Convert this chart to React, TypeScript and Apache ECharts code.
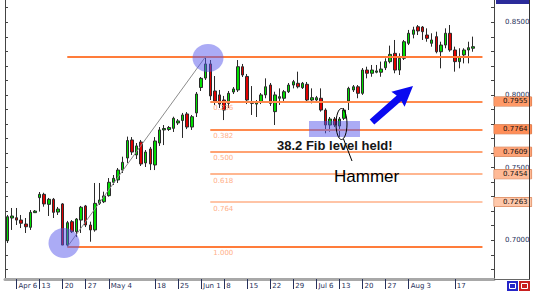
import React, { useEffect, useRef } from 'react';
import * as echarts from 'echarts';

// ---------- data ----------
const startDate = '2009-04-02';
const slotCount = 106; // trading days shown on the axis (incl. empty right margin)

// [open, close, low, high]
const ohlc: number[][] = [
  [0.6997, 0.7162, 0.6981, 0.7174],
  [0.7153, 0.7167, 0.7071, 0.7222],
  [0.7155, 0.7139, 0.7105, 0.7222],
  [0.7139, 0.7117, 0.7084, 0.7174],
  [0.7112, 0.7093, 0.7050, 0.7153],
  [0.7089, 0.7192, 0.7071, 0.7208],
  [0.7190, 0.7201, 0.7188, 0.7208],
  [0.7293, 0.7316, 0.7197, 0.7332],
  [0.7316, 0.7250, 0.7231, 0.7327],
  [0.7247, 0.7282, 0.7167, 0.7291],
  [0.7282, 0.7192, 0.7153, 0.7291],
  [0.7194, 0.7215, 0.7174, 0.7229],
  [0.7250, 0.6967, 0.6967, 0.7256],
  [0.6967, 0.7121, 0.6954, 0.7133],
  [0.7128, 0.7059, 0.7050, 0.7139],
  [0.7059, 0.7146, 0.7022, 0.7153],
  [0.7139, 0.7227, 0.7050, 0.7236],
  [0.7236, 0.7105, 0.7091, 0.7243],
  [0.7105, 0.7071, 0.6990, 0.7128],
  [0.7071, 0.7254, 0.7059, 0.7394],
  [0.7254, 0.7277, 0.7243, 0.7394],
  [0.7265, 0.7305, 0.7256, 0.7334],
  [0.7307, 0.7399, 0.7300, 0.7428],
  [0.7399, 0.7426, 0.7380, 0.7449],
  [0.7415, 0.7483, 0.7394, 0.7497],
  [0.7483, 0.7536, 0.7463, 0.7575],
  [0.7566, 0.7686, 0.7532, 0.7713],
  [0.7690, 0.7607, 0.7587, 0.7710],
  [0.7587, 0.7649, 0.7559, 0.7669],
  [0.7676, 0.7525, 0.7511, 0.7690],
  [0.7532, 0.7607, 0.7504, 0.7621],
  [0.7628, 0.7525, 0.7483, 0.7642],
  [0.7518, 0.7683, 0.7483, 0.7710],
  [0.7669, 0.7759, 0.7649, 0.7779],
  [0.7759, 0.7769, 0.7655, 0.7793],
  [0.7762, 0.7776, 0.7752, 0.7786],
  [0.7770, 0.7839, 0.7745, 0.7850],
  [0.7807, 0.7821, 0.7793, 0.7834],
  [0.7824, 0.7862, 0.7704, 0.7876],
  [0.7869, 0.7779, 0.7765, 0.7882],
  [0.7779, 0.7850, 0.7759, 0.7862],
  [0.7876, 0.8006, 0.7848, 0.8020],
  [0.8051, 0.8114, 0.8027, 0.8123],
  [0.8116, 0.8213, 0.8103, 0.8264],
  [0.8213, 0.7993, 0.7965, 0.8240],
  [0.8027, 0.7958, 0.7931, 0.8130],
  [0.8000, 0.7937, 0.7910, 0.8034],
  [0.7965, 0.7896, 0.7827, 0.7993],
  [0.7942, 0.8011, 0.7910, 0.8027],
  [0.8020, 0.8041, 0.8006, 0.8054],
  [0.8034, 0.8194, 0.8020, 0.8240],
  [0.8194, 0.8137, 0.8123, 0.8213],
  [0.8127, 0.7965, 0.7937, 0.8144],
  [0.7955, 0.7942, 0.7862, 0.8061],
  [0.7937, 0.7951, 0.7848, 0.7965],
  [0.7953, 0.8000, 0.7937, 0.8013],
  [0.8000, 0.8056, 0.7977, 0.8114],
  [0.8068, 0.7942, 0.7924, 0.8082],
  [0.7885, 0.8000, 0.7793, 0.8022],
  [0.7977, 0.7988, 0.7931, 0.8045],
  [0.7977, 0.8022, 0.7958, 0.8034],
  [0.8022, 0.8068, 0.8013, 0.8082],
  [0.8068, 0.8091, 0.8045, 0.8103],
  [0.8080, 0.8056, 0.8045, 0.8160],
  [0.8050, 0.8080, 0.8041, 0.8089],
  [0.8073, 0.7965, 0.7951, 0.8089],
  [0.7965, 0.7981, 0.7942, 0.8045],
  [0.7965, 0.7981, 0.7958, 0.7993],
  [0.7977, 0.7896, 0.7885, 0.8045],
  [0.7896, 0.7793, 0.7736, 0.7908],
  [0.7793, 0.7834, 0.7747, 0.7848],
  [0.7834, 0.7793, 0.7779, 0.7848],
  [0.7786, 0.7834, 0.7710, 0.7848],
  [0.7839, 0.7896, 0.7827, 0.7910],
  [0.7958, 0.8045, 0.7896, 0.8056],
  [0.8034, 0.8056, 0.8020, 0.8068],
  [0.8056, 0.8011, 0.7977, 0.8068],
  [0.8011, 0.8171, 0.8000, 0.8185],
  [0.8171, 0.8149, 0.8114, 0.8194],
  [0.8149, 0.8171, 0.8125, 0.8206],
  [0.8156, 0.8165, 0.8149, 0.8206],
  [0.8156, 0.8178, 0.8125, 0.8229],
  [0.8187, 0.8229, 0.8171, 0.8252],
  [0.8229, 0.8279, 0.8217, 0.8339],
  [0.8286, 0.8171, 0.8149, 0.8378],
  [0.8171, 0.8252, 0.8137, 0.8286],
  [0.8252, 0.8366, 0.8240, 0.8378],
  [0.8355, 0.8424, 0.8343, 0.8447],
  [0.8417, 0.8447, 0.8389, 0.8469],
  [0.8469, 0.8440, 0.8412, 0.8481],
  [0.8467, 0.8435, 0.8378, 0.8474],
  [0.8412, 0.8389, 0.8366, 0.8458],
  [0.8355, 0.8378, 0.8332, 0.8424],
  [0.8401, 0.8297, 0.8286, 0.8435],
  [0.8297, 0.8343, 0.8183, 0.8366],
  [0.8343, 0.8424, 0.8321, 0.8458],
  [0.8424, 0.8309, 0.8297, 0.8481],
  [0.8309, 0.8229, 0.8160, 0.8332],
  [0.8229, 0.8263, 0.8183, 0.8321],
  [0.8275, 0.8309, 0.8217, 0.8321],
  [0.8309, 0.8325, 0.8217, 0.8366],
  [0.8321, 0.8332, 0.8297, 0.8401],
];

const tickDates = [
  '2009-04-06', '2009-04-13', '2009-04-20', '2009-04-27', '2009-05-04',
  '2009-05-18', '2009-05-25', '2009-06-01', '2009-06-08', '2009-06-15',
  '2009-06-22', '2009-06-29', '2009-07-06', '2009-07-13', '2009-07-20',
  '2009-07-27', '2009-08-03', '2009-08-17',
];
const tickLabels = [
  'Apr 6', '13', '20', '27', 'May 4', '18', '25', 'Jun 1', '8', '15',
  '22', '29', 'Jul 6', '13', '20', '27', 'Aug 3', '17',
];

const fibHigh = 0.8264;
const fibLow = 0.6954;
const fibLowIndex = 13;
const fibHighIndex = 43;
const fibMidStartIndex = 44;
const fibEndIndex = 103;
const fibRatios = [0, 0.236, 0.382, 0.5, 0.618, 0.764, 1];
const fibLineColors = ['#FF7C3A', '#FF8A4E', '#FF8A4E', '#FFA272', '#FFB690', '#FFC4A6', '#FF7C3A'];
const fibTagColors = ['', '#FF9A68', '#FF8E58', '#FFA478', '#FFBA96', '#FFC8AA', ''];

const yLabelValues = [0.7, 0.75, 0.8, 0.85];
const yTickValues = [0.68, 0.69, 0.7, 0.71, 0.72, 0.73, 0.74, 0.75, 0.76, 0.77, 0.78, 0.79, 0.8, 0.81, 0.82, 0.83, 0.84, 0.85, 0.86];
const yMin = 0.67335;
const yMax = 0.8653;

// ---------- helpers ----------
function buildDates(start: string, n: number): string[] {
  const out: string[] = [];
  const d = new Date(start + 'T00:00:00Z');
  while (out.length < n) {
    const wd = d.getUTCDay();
    if (wd !== 0 && wd !== 6) out.push(d.toISOString().slice(0, 10));
    d.setUTCDate(d.getUTCDate() + 1);
  }
  return out;
}

const FONT = '"DejaVu Sans", sans-serif';
const HIDDEN = { color: 'rgba(0,0,0,0)', width: 0 };

export default function App() {
  const ref = useRef<HTMLDivElement>(null);

  useEffect(() => {
    if (!ref.current) return;
    const chart = echarts.init(ref.current, null, { renderer: 'svg' });
    const dates = buildDates(startDate, slotCount);
    const isTick = (_i: number, v: string) => tickDates.indexOf(v) >= 0;

    const range = fibHigh - fibLow;
    const markData: any[] = [];
    fibRatios.forEach((r, k) => {
      const v = fibHigh - r * range;
      const s = r === 0 || r === 1 ? fibLowIndex : fibMidStartIndex;
      markData.push([
        { coord: [s, v], lineStyle: { color: fibLineColors[k], width: 2, type: 'solid' } },
        { coord: [fibEndIndex, v] },
      ]);
      if (r !== 0) {
        markData.push([
          {
            coord: [fibMidStartIndex, v],
            lineStyle: HIDDEN,
            label: {
              show: true,
              position: 'insideStartBottom',
              formatter: r.toFixed(3),
              color: '#FFB089',
              fontSize: 7,
              fontFamily: FONT,
              distance: 3,
            },
          },
          { coord: [fibEndIndex, v] },
        ]);
      }
      if (fibTagColors[k]) {
        markData.push([
          {
            coord: [fibEndIndex, v],
            lineStyle: HIDDEN,
            label: {
              show: true,
              position: 'end',
              formatter: v.toFixed(4),
              color: '#111',
              fontSize: 7,
              fontFamily: FONT,
              backgroundColor: fibTagColors[k],
              borderColor: '#c86a3a',
              borderWidth: 0.5,
              padding: [1, 4, 1, 9],
              distance: 7,
            },
          },
          { coord: [fibEndIndex + 1, v] },
        ]);
      }
    });
    markData.push([
      { coord: [fibLowIndex, fibLow], lineStyle: { color: '#8c8c8c', width: 1, type: 'solid' } },
      { coord: [fibHighIndex, fibHigh] },
    ]);

    const blue = 'rgba(88,88,235,0.5)';
    const option: any = {
      animation: false,
      backgroundColor: '#ffffff',
      grid: { left: 5, right: 39, top: 0, bottom: 14, containLabel: false },
      xAxis: {
        type: 'category',
        data: dates,
        boundaryGap: true,
        axisLine: { show: true, lineStyle: { color: '#a8a8a8', width: 3 } },
        axisTick: { show: true, alignWithLabel: true, interval: isTick, length: 10, lineStyle: { color: '#26305a', width: 1 } },
        axisLabel: {
          interval: isTick,
          formatter: (v: string) => {
            const k = tickDates.indexOf(v);
            return k >= 0 ? tickLabels[k] : '';
          },
          align: 'left',
          fontSize: 7,
          fontFamily: FONT,
          color: '#26305a',
          margin: 3,
          padding: [0, 0, 0, 2],
        },
        splitLine: { show: false },
      },
      yAxis: [
        {
          type: 'value',
          position: 'right',
          min: yMin,
          max: yMax,
          scale: true,
          splitLine: { show: false },
          axisLine: { show: true, lineStyle: { color: '#444', width: 1 } },
          axisTick: { show: true, inside: true, length: 3, customValues: yTickValues, lineStyle: { color: '#444' } },
          axisLabel: {
            customValues: yLabelValues,
            formatter: (v: number) => v.toFixed(4),
            fontSize: 7,
            fontFamily: FONT,
            color: '#26305a',
            margin: 11,
          },
        },
        {
          type: 'value',
          position: 'left',
          min: yMin,
          max: yMax,
          scale: true,
          splitLine: { show: false },
          axisLine: { show: true, lineStyle: { color: '#444', width: 1 } },
          axisTick: { show: true, inside: true, length: 3, customValues: yTickValues, lineStyle: { color: '#444' } },
          axisLabel: { show: false },
        },
      ],
      series: [
        {
          type: 'line',
          data: [],
          z: 1,
          silent: true,
          markLine: {
            silent: true,
            symbol: ['none', 'none'],
            label: { show: false },
            emphasis: { disabled: true },
            data: markData,
          },
        },
        {
          type: 'candlestick',
          data: ohlc,
          z: 3,
          barWidth: 3,
          itemStyle: {
            color: '#00DD00',
            color0: '#E00000',
            borderColor: '#2a2a2a',
            borderColor0: '#2a2a2a',
            borderWidth: 1,
          },
        },
      ],
      graphic: [
        { type: 'ellipse', z: 100, shape: { cx: 208, cy: 58, rx: 15.5, ry: 14 }, style: { fill: blue } },
        { type: 'ellipse', z: 100, shape: { cx: 64, cy: 243, rx: 15.5, ry: 15 }, style: { fill: blue } },
        { type: 'rect', z: 100, shape: { x: 309, y: 121, width: 51, height: 16 }, style: { fill: blue } },
        { type: 'ellipse', z: 101, shape: { cx: 341.5, cy: 124, rx: 5.5, ry: 15.5 }, style: { fill: 'none', stroke: '#000', lineWidth: 1 } },
        { type: 'line', z: 101, shape: { x1: 343.5, y1: 139, x2: 352, y2: 161 }, style: { stroke: '#000', lineWidth: 1 } },
        {
          type: 'polygon',
          z: 101,
          shape: {
            points: [
              [369.7, 119.4], [396.7, 95.6], [391.4, 91.7], [413, 86], [404.6, 106.7], [401.3, 100.9], [374.3, 124.6],
            ],
          },
          style: { fill: '#0a0af0' },
        },
        {
          type: 'text',
          z: 102,
          x: 277,
          y: 145,
          style: { text: '38.2 Fib level held!', font: 'bold 13px "Liberation Sans", Arial, sans-serif', fill: '#151515', textVerticalAlign: 'middle' },
        },
        {
          type: 'text',
          z: 102,
          x: 334,
          y: 176,
          style: {
            text: 'Hammer',
            font: '17px "Liberation Sans", Arial, sans-serif',
            fill: '#000',
            textVerticalAlign: 'middle',
            textShadowColor: '#FF9A50',
            textShadowOffsetX: -1,
            textShadowOffsetY: 0,
            textShadowBlur: 0,
          },
        },
        { type: 'rect', z: 90, shape: { x: 496, y: 0, width: 33, height: 4 }, style: { fill: '#2b2b9a' } },
        { type: 'line', z: 90, shape: { x1: 529.5, y1: 0, x2: 529.5, y2: 279 }, style: { stroke: '#333', lineWidth: 1 } },
        { type: 'line', z: 90, shape: { x1: 494, y1: 279.5, x2: 530, y2: 279.5 }, style: { stroke: '#666', lineWidth: 1 } },
        { type: 'rect', z: 90, shape: { x: 507, y: 281, width: 11, height: 10 }, style: { fill: '#2525c8' } },
        { type: 'rect', z: 91, shape: { x: 509.5, y: 283.5, width: 6, height: 5 }, style: { fill: 'none', stroke: '#fff', lineWidth: 1 } },
        { type: 'rect', z: 90, shape: { x: 519, y: 281, width: 11, height: 10 }, style: { fill: '#c82020' } },
        { type: 'rect', z: 91, shape: { x: 521.5, y: 283.5, width: 6, height: 5 }, style: { fill: 'none', stroke: '#fff', lineWidth: 1 } },
      ],
    };
    chart.setOption(option);
    return () => chart.dispose();
  }, []);

  return (
    <div
      ref={ref}
      style={{ position: 'fixed', left: 0, top: 0, width: 533, height: 293, background: '#fff' }}
    />
  );
}
